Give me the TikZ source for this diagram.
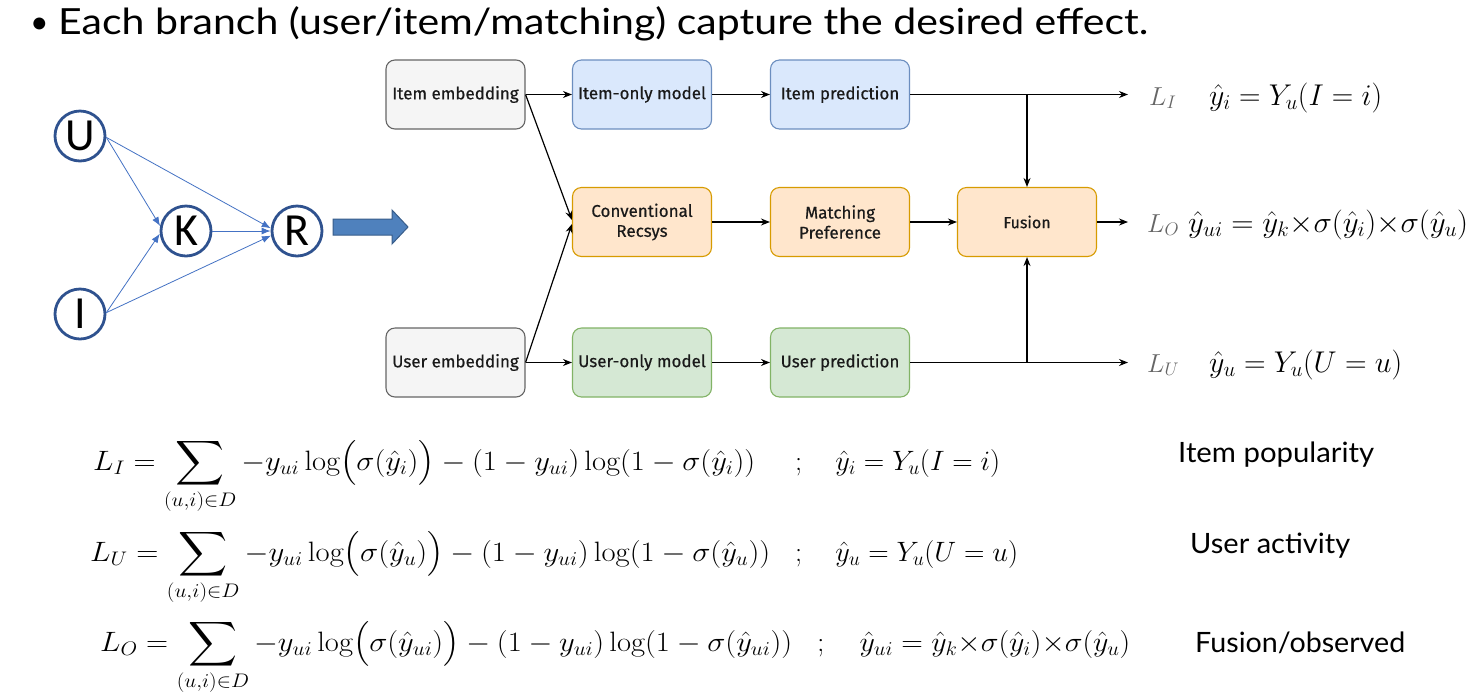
\RequirePackage{fix-cm}
\documentclass[tikz,border=0pt]{standalone}
\usepackage{amsmath}
\usepackage{fontspec}
\usepackage{graphicx}
\usetikzlibrary{arrows.meta}
\newfontfamily\titlefont{Lato}
\newfontfamily\boxfont[FakeBold=0.5]{Fira Sans}
\newfontfamily\varfont{Carlito}
% stretch a box horizontally to a given width, keeping its height
\newcommand\fitw[2]{\resizebox{#1}{\height}{#2}}
% enlarged summation with limits underneath
\newcommand\Lsum{\mathop{\vcenter{\hbox{\scalebox{1.25}{$\displaystyle\sum$}}}}\limits_{(u,i)\in D}}

\definecolor{gfill}{HTML}{F5F5F5}\definecolor{gline}{HTML}{666666}
\definecolor{bfill}{HTML}{DAE8FC}\definecolor{bline}{HTML}{6C8EBF}
\definecolor{ofill}{HTML}{FFE6CC}\definecolor{oline}{HTML}{D79B00}
\definecolor{vfill}{HTML}{D5E8D4}\definecolor{vline}{HTML}{82B366}
\definecolor{cline}{HTML}{2F528F}\definecolor{eline}{HTML}{4472C4}
\definecolor{arrfill}{HTML}{4F81BD}\definecolor{arrline}{HTML}{385D8A}
\definecolor{lossgray}{HTML}{666666}
\definecolor{boxtext}{HTML}{1A1A1A}

\tikzset{
  box/.style={rounded corners=9pt, minimum width=139pt, minimum height=69pt,
    inner sep=0pt, line width=1.1pt, align=center, text=boxtext,
    font=\boxfont\fontsize{17}{20}\selectfont},
  gbox/.style={box, fill=gfill, draw=gline},
  bbox/.style={box, fill=bfill, draw=bline},
  obox/.style={box, fill=ofill, draw=oline},
  vbox/.style={box, fill=vfill, draw=vline},
  flow/.style={-{Stealth[length=9pt,width=7pt]}, line width=1.2pt},
  var/.style={circle, draw=cline, line width=2.8pt, fill=white,
    minimum size=50pt, inner sep=0pt, font=\varfont\fontsize{46}{46}\selectfont},
  causal/.style={draw=eline, line width=0.8pt, -{Latex[length=9pt,width=7pt]}},
  eq/.style={inner sep=0pt, font=\fontsize{28}{32}\selectfont},
  rhs/.style={inner sep=0pt, font=\fontsize{30}{34}\selectfont},
  lossname/.style={inner sep=0pt, text=lossgray, font=\fontsize{26}{30}\selectfont},
  caption/.style={inner sep=0pt, font=\titlefont\fontsize{28}{32}\selectfont},
}

\begin{document}
\begin{tikzpicture}[x=1pt,y=-1pt]
\path[fill=white] (0,0) rectangle (1471,693);

% heading
\node[anchor=base west, inner sep=0pt, font=\titlefont\fontsize{32}{40}\selectfont] (bullet) at (30,33) {•};
\node[anchor=base west, inner sep=0pt, font=\titlefont\fontsize{36}{40}\selectfont] (title) at (58,34)
  {\fitw{1090pt}{Each branch (user/item/matching) capture the desired effect.}};

% causal graph
\node[var] (U) at (80,136) {U};
\node[var] (K) at (186,231) {K};
\node[var] (R) at (297,231) {R};
\node[var] (I) at (80,314) {I};
\draw[causal] (U.-3) -- (K.169);
\draw[causal] (U.-3) -- (R.174);
\draw[causal] (I.3) -- (K.186);
\draw[causal] (I.3) -- (R.190);
\draw[causal] (K.east) -- (R.west);

% block arrow
\draw[fill=arrfill, draw=arrline, line width=1pt]
  (333,219) -- (392,219) -- (392,210) -- (408,227) -- (392,244) -- (392,235) -- (333,235) -- cycle;

% flowchart
\node[gbox] (ie) at (455.5,94.5) {Item embedding};
\node[bbox] (iom) at (642,94.5) {Item-only model};
\node[bbox] (ip) at (840,94.5) {Item prediction};
\node[obox] (cr) at (642,222) {Conventional\\Recsys};
\node[obox] (mp) at (840,222) {Matching\\Preference};
\node[obox, font=\boxfont\fontsize{16}{19}\selectfont] (fus) at (1027,222) {Fusion};
\node[gbox] (ue) at (455.5,362.5) {User embedding};
\node[vbox] (uom) at (642,362.5) {User-only model};
\node[vbox] (up) at (840,362.5) {User prediction};

\coordinate (oI) at (1128,94.5);
\coordinate (oO) at (1128,222);
\coordinate (oU) at (1128,362.5);

\draw[flow] (ie.east) -- (iom.west);
\draw[flow] (ie.east) -- ([yshift=2pt]cr.west);
\draw[flow] (ue.east) -- ([yshift=-2pt]cr.west);
\draw[flow] (ue.east) -- (uom.west);
\draw[flow] (iom) -- (ip);
\draw[flow] (cr) -- (mp);
\draw[flow] (mp) -- (fus);
\draw[flow] (uom) -- (up);
\draw[flow] (ip.east) -- (oI);
\draw[flow] (fus.east) -- (oO);
\draw[flow] (up.east) -- (oU);
\draw[flow] (ip.east -| fus.north) -- (fus.north);
\draw[flow] (up.east -| fus.south) -- (fus.south);

% branch outputs
\node[lossname, anchor=base west] (LI) at (1149,105) {$L_I$};
\node[lossname, anchor=base west] (LO) at (1147,232) {$L_O$};
\node[lossname, anchor=base west] (LU) at (1147,372) {$L_U$};
\node[rhs, anchor=base west] (rI) at (1209,105) {\fitw{173pt}{$\hat y_i = Y_u(I=i)$}};
\node[rhs, anchor=base west] (rO) at (1188,232) {\fitw{280pt}{$\hat y_{ui} = \hat y_k{\times}\sigma(\hat y_i){\times}\sigma(\hat y_u)$}};
\node[rhs, anchor=base west] (rU) at (1209,372) {\fitw{193pt}{$\hat y_u = Y_u(U=u)$}};

% losses
\node[eq, anchor=base west] (e1) at (93,470)
  {\fitw{662pt}{$L_I = \Lsum -y_{ui}\log\bigl(\sigma(\hat y_i)\bigr) - (1-y_{ui})\log(1-\sigma(\hat y_i))$}};
\node[eq, anchor=base west] (s1) at (795,470)
  {\fitw{205pt}{$;\quad \hat y_i = Y_u(I=i)$}};
\node[eq, anchor=base west] (e2) at (90,561)
  {\fitw{680pt}{$L_U = \Lsum -y_{ui}\log\bigl(\sigma(\hat y_u)\bigr) - (1-y_{ui})\log(1-\sigma(\hat y_u))$}};
\node[eq, anchor=base west] (s2) at (795,561)
  {\fitw{223pt}{$;\quad \hat y_u = Y_u(U=u)$}};
\node[eq, anchor=base west] (e3) at (100,651)
  {\fitw{692pt}{$L_O = \Lsum -y_{ui}\log\bigl(\sigma(\hat y_{ui})\bigr) - (1-y_{ui})\log(1-\sigma(\hat y_{ui}))$}};
\node[eq, anchor=base west] (s3) at (817,651)
  {\fitw{313pt}{$;\quad \hat y_{ui} = \hat y_k{\times}\sigma(\hat y_i){\times}\sigma(\hat y_u)$}};

\node[caption, anchor=base west] (c1) at (1178,462) {\fitw{196pt}{Item popularity}};
\node[caption, anchor=base west] (c2) at (1190,553) {\fitw{160pt}{User activity}};
\node[caption, anchor=base west] (c3) at (1195,652) {\fitw{210pt}{Fusion/observed}};
\end{tikzpicture}
\end{document}
